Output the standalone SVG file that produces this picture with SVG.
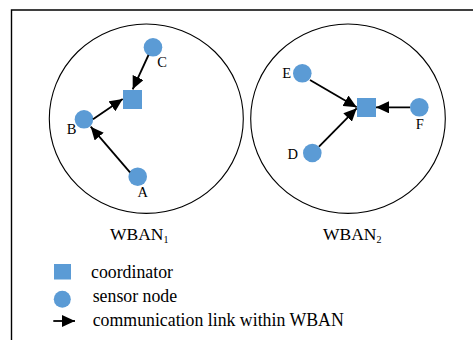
<svg xmlns="http://www.w3.org/2000/svg" width="473" height="340" viewBox="0 0 473 340">
<defs>
<marker id="ah" markerUnits="userSpaceOnUse" markerWidth="14" markerHeight="12" viewBox="0 0 14 12" refX="13" refY="6" orient="auto">
<path d="M0,0 L13,6 L0,12 Z" fill="#000"/>
</marker>
</defs>
<style>
.wb{fill:none;stroke:#000;stroke-width:1.1}
.nd{fill:#5B9BD5}
.lbl{font-family:"Liberation Serif","Times New Roman",serif;font-size:14.5px;fill:#000}
.cap{font-family:"Liberation Serif","Times New Roman",serif;font-size:17.5px;fill:#000}
.leg{font-family:"Liberation Serif","Times New Roman",serif;font-size:17.8px;fill:#000}
.sub{font-size:10px}
.lk{stroke:#000;stroke-width:1.8;fill:none;marker-end:url(#ah)}
</style>
<rect width="473" height="340" fill="#fff"/>
<path d="M473,10 H11.5 V340" fill="none" stroke="#000" stroke-width="1.4"/>
<g id="wban1">
<ellipse class="wb" cx="146.3" cy="118.7" rx="97" ry="94.7"/>
<text class="cap" x="110" y="240">WBAN<tspan class="sub" dy="3">1</tspan></text>
</g>
<g id="wban2">
<ellipse class="wb" cx="348" cy="118.7" rx="97.3" ry="94.7"/>
<text class="cap" x="323" y="240">WBAN<tspan class="sub" dy="3">2</tspan></text>
</g>
<g id="coord1"><rect class="nd" x="123" y="90" width="19" height="19"/></g>
<g id="coord2"><rect class="nd" x="357" y="98" width="19" height="19"/></g>
<g id="nodeA"><circle class="nd" cx="137.7" cy="176.7" r="9.3"/><text class="lbl" x="142.7" y="197" text-anchor="middle">A</text></g>
<g id="nodeB"><circle class="nd" cx="84" cy="119.3" r="9.3"/><text class="lbl" x="71.7" y="134" text-anchor="middle">B</text></g>
<g id="nodeC"><circle class="nd" cx="153" cy="47.3" r="9.3"/><text class="lbl" x="162" y="67" text-anchor="middle">C</text></g>
<g id="nodeD"><circle class="nd" cx="312.3" cy="153" r="9.3"/><text class="lbl" x="292.7" y="159" text-anchor="middle">D</text></g>
<g id="nodeE"><circle class="nd" cx="302.3" cy="73.3" r="9.3"/><text class="lbl" x="286.7" y="78" text-anchor="middle">E</text></g>
<g id="nodeF"><circle class="nd" cx="419.3" cy="107.3" r="9.3"/><text class="lbl" x="419.7" y="129" text-anchor="middle">F</text></g>
<g id="links">
<line class="lk" x1="148.5" y1="55" x2="132.7" y2="89.3"/>
<line class="lk" x1="93" y1="119.3" x2="122.7" y2="99"/>
<line class="lk" x1="130" y1="172.3" x2="90.7" y2="126.7"/>
<line class="lk" x1="310" y1="80" x2="356.7" y2="107.3"/>
<line class="lk" x1="319" y1="146.7" x2="356.7" y2="108.3"/>
<line class="lk" x1="410" y1="107.3" x2="376" y2="107.3"/>
</g>
<g id="legend">
<rect class="nd" x="54" y="264" width="17" height="15.5"/>
<text class="leg" x="91" y="278">coordinator</text>
<circle class="nd" cx="62.3" cy="299.3" r="8.5"/>
<text class="leg" x="92.7" y="302">sensor node</text>
<line class="lk" x1="53.3" y1="321" x2="75" y2="321"/>
<text class="leg" x="92.7" y="326">communication link within WBAN</text>
</g>
</svg>
